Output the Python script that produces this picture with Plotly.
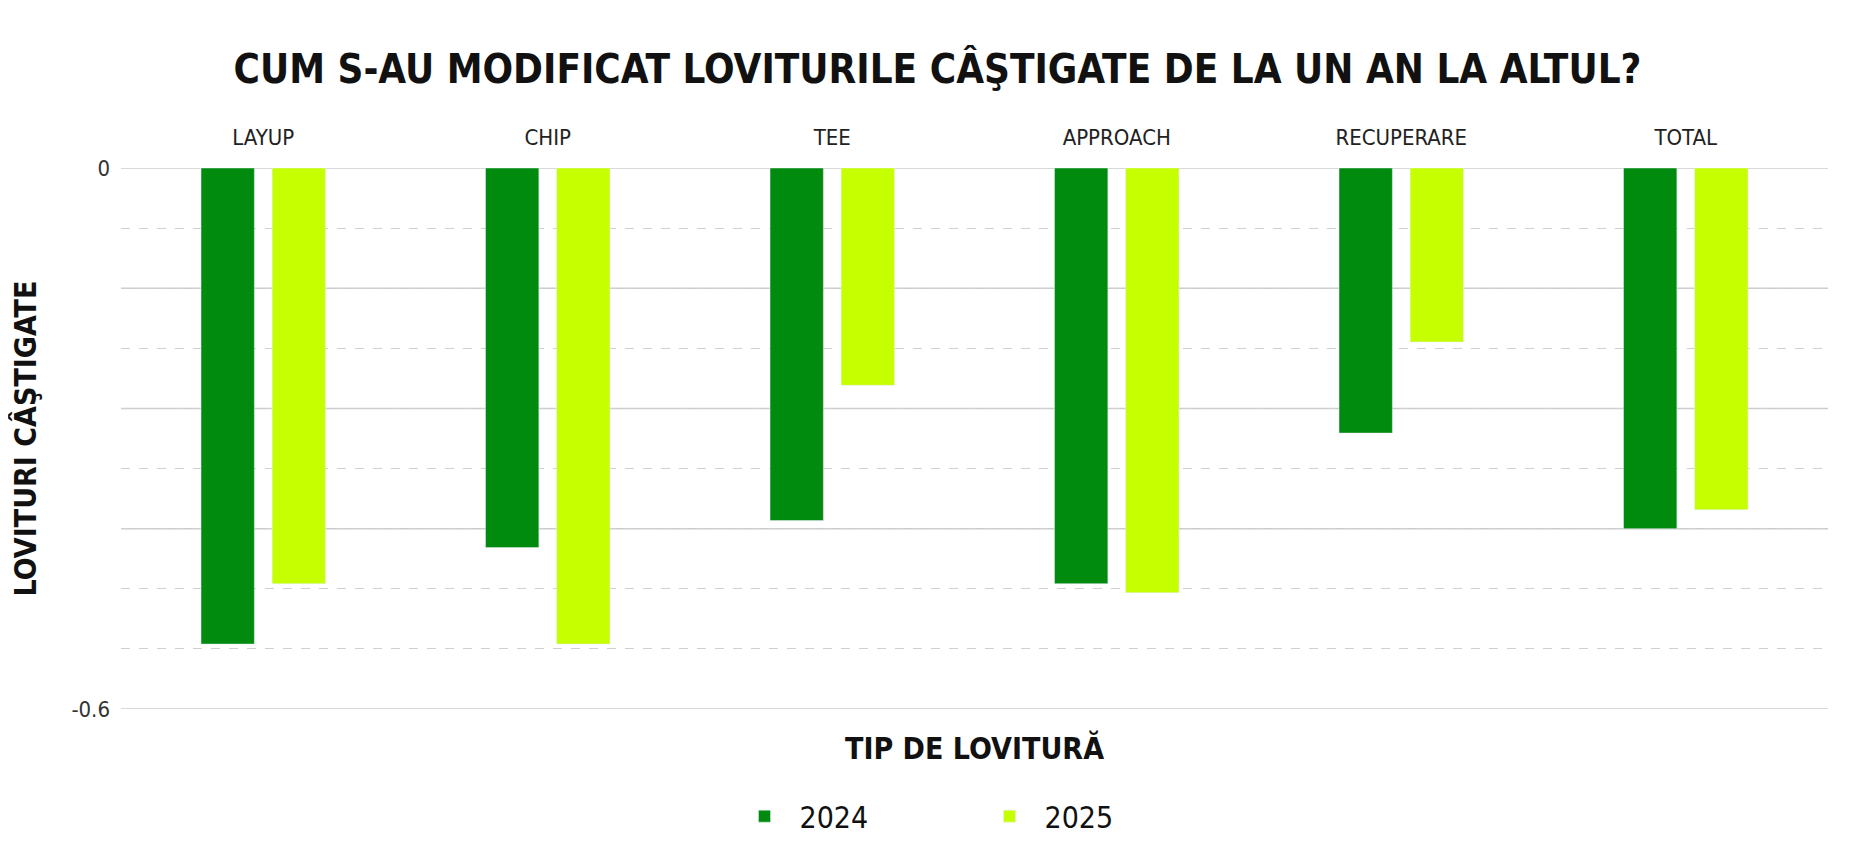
import plotly.graph_objects as go

categories = ['LAYUP', 'CHIP', 'TEE', 'APPROACH', 'RECUPERARE', 'TOTAL']
values_2024 = [-0.528, -0.421, -0.391, -0.461, -0.294, -0.400]
values_2025 = [-0.461, -0.528, -0.241, -0.471, -0.193, -0.379]

FONT = "Liberation Sans Narrow, DejaVu Sans Condensed, Arial Narrow, sans-serif"

fig = go.Figure()
fig.add_trace(go.Bar(name='2024', x=categories, y=values_2024, marker_color='#008a0e'))
fig.add_trace(go.Bar(name='2025', x=categories, y=values_2025, marker_color='#c6ff00'))

# solid gridlines, the dashed ones come from the minor grid
for v in [0, -0.1333, -0.2667, -0.4, -0.6]:
    fig.add_shape(type='line', xref='paper', x0=0, x1=1, yref='y', y0=v, y1=v,
                  line=dict(color='#cccccc', width=1.5), layer='below')

fig.update_layout(
    width=1859, height=846,
    paper_bgcolor='white', plot_bgcolor='white',
    font=dict(family=FONT, color='#222', size=20),
    title=dict(text='<b>CUM S-AU MODIFICAT LOVITURILE CÂŞTIGATE DE LA UN AN LA ALTUL?</b>',
               x=0.5, y=0.945, xanchor='center', font=dict(size=40, color='#111')),
    margin=dict(l=101, r=39, t=160, b=120),
    barmode='group', bargap=0.5, bargroupgap=0.25,
    legend=dict(orientation='h', x=0.5, xanchor='center', y=-0.15, yanchor='top',
                font=dict(size=30, color='#111'), entrywidth=170, itemwidth=60,
                traceorder='normal'),
    xaxis=dict(side='top', showgrid=False, showline=False, ticks='', ticklabelstandoff=18,
               tickfont=dict(size=22, color='#222')),
    yaxis=dict(range=[-0.6, 0.0], tickvals=[0, -0.6], ticktext=['0', '-0.6'],
               showgrid=False, zeroline=False, ticklabelstandoff=10,
               tickfont=dict(size=22, color='#333'),
               minor=dict(dtick=0.0666667, showgrid=True, gridcolor='#d0d0d0', griddash='dash'),
               title=dict(text='<b>LOVITURI CÂŞTIGATE</b>', font=dict(size=30, color='#111'), standoff=30)),
)
fig.add_annotation(text='<b>TIP DE LOVITURĂ</b>', xref='paper', yref='paper', x=0.5, y=-0.035,
                   yanchor='top', showarrow=False, font=dict(size=30, color='#111'))

fig.write_html("out.html")
